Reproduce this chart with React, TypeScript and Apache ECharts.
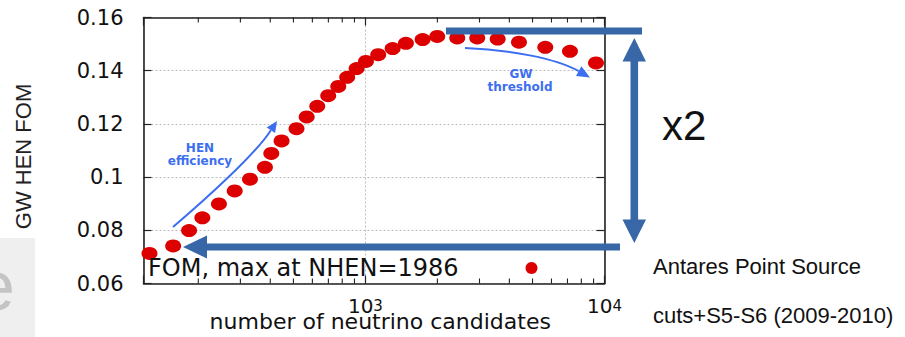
import React, { useEffect, useRef } from 'react';
import * as echarts from 'echarts';

// ---- data ----
const candidates = [125, 157, 183, 208, 244, 284, 329, 380, 404, 446, 515, 568, 629, 699, 770, 839, 919, 1005, 1131, 1300, 1477, 1735, 1997, 2422, 2936, 3574, 4388, 5653, 7171, 9213];
const fom = [0.0713, 0.0741, 0.0799, 0.0847, 0.0899, 0.0948, 0.0992, 0.1037, 0.1089, 0.1136, 0.1182, 0.1226, 0.1266, 0.1306, 0.1341, 0.1375, 0.1408, 0.1435, 0.146, 0.1483, 0.1503, 0.1517, 0.1529, 0.1523, 0.1523, 0.1519, 0.1507, 0.1488, 0.1473, 0.1429];
const minorTicks = [200, 300, 400, 500, 600, 700, 800, 900, 2000, 3000, 4000, 5000, 6000, 7000, 8000, 9000];
const xMin = 118;
const xMax = 10000;
const yMin = 0.06;
const yMax = 0.16;
const yStep = 0.02;
const seriesName = 'FOM, max at NHEN=1986';
const yAxisTitle = 'GW HEN FOM';
const xAxisTitle = 'number of neutrino candidates';

const AX = '#222';
const RED = '#dc0000';
const BLUE = '#3d6ef0';
const STEEL = '#3767a6';
const GNU_FONT = 'DejaVu Sans';
const SLIDE_FONT = 'Liberation Sans, Arial, sans-serif';

function buildOption(): any {
  const points = candidates.map((c, i) => [c, fom[i]]);
  const tickData = minorTicks.map((t) => [t, yMin]);

  const xLabelFmt = (v: number) => {
    const e = Math.log10(v);
    const r = Math.round(e);
    if (Math.abs(e - r) > 1e-6 || r < 3) return '';
    return `{b|10}{s|${r}}`;
  };

  const axisLine = { show: true, onZero: false, lineStyle: { color: AX, width: 1.6 } };
  const split = { show: true, lineStyle: { color: '#bdbdbd', width: 1, type: [2, 2] } };

  const headHEN = [[277, 121], [275.1, 133], [266.7, 127.4]];
  const headGW = [[590, 77.5], [576, 75.9], [581.4, 66.3]];

  return {
    animation: false,
    backgroundColor: '#ffffff',
    grid: { left: 143.5, right: 300.5, top: 17.5, bottom: 53.5, containLabel: false, outerBoundsMode: 'none' },
    legend: {
      data: [seriesName],
      left: 143,
      top: 251,
      align: 'right',
      icon: 'circle',
      itemWidth: 17,
      itemHeight: 12,
      selectedMode: false,
      formatter: (name: string) => `{t|${name}}`,
      textStyle: {
        rich: {
          t: { width: 370, align: 'left', fontFamily: GNU_FONT, fontSize: 24, color: '#111' },
        },
      },
    },
    xAxis: [
      {
        type: 'log',
        logBase: 10,
        min: xMin,
        max: xMax,
        position: 'bottom',
        axisLine,
        axisTick: { show: true, inside: true, length: 8, lineStyle: { color: AX, width: 1.2 } },
        splitLine: split,
        axisLabel: {
          formatter: xLabelFmt,
          margin: 14.5,
          fontFamily: GNU_FONT,
          fontSize: 20,
          color: '#111',
          showMinLabel: true,
          showMaxLabel: true,
          rich: {
            b: { fontFamily: GNU_FONT, fontSize: 20, color: '#111', lineHeight: 16 },
            s: { fontFamily: GNU_FONT, fontSize: 15, color: '#111', lineHeight: 1, verticalAlign: 'top' },
          },
        },
        name: xAxisTitle,
        nameLocation: 'middle',
        nameGap: 32.5,
        nameMoveOverlap: false,
        nameTextStyle: { fontFamily: GNU_FONT, fontSize: 22, lineHeight: 10, color: '#111', padding: [0, 0, 0, 12.5] },
      },
      {
        type: 'log',
        logBase: 10,
        min: xMin,
        max: xMax,
        position: 'top',
        axisLine,
        axisTick: { show: true, inside: true, length: 8, lineStyle: { color: AX, width: 1.2 } },
        axisLabel: { show: false },
        splitLine: { show: false },
      },
    ],
    yAxis: [
      {
        type: 'value',
        min: yMin,
        max: yMax,
        interval: yStep,
        position: 'left',
        axisLine,
        axisTick: { show: true, inside: true, length: 8, lineStyle: { color: AX, width: 1.2 } },
        splitLine: split,
        axisLabel: {
          margin: 20,
          fontFamily: GNU_FONT,
          fontSize: 21,
          color: '#111',
          formatter: (v: number) => String(+v.toFixed(2)),
        },
        name: yAxisTitle,
        nameLocation: 'middle',
        nameRotate: 90,
        nameGap: 109.5,
        nameMoveOverlap: false,
        nameTextStyle: { fontFamily: SLIDE_FONT, fontSize: 22, color: '#222', padding: [0, 12, 0, 0] },
      },
      {
        type: 'value',
        min: yMin,
        max: yMax,
        interval: yStep,
        position: 'right',
        axisLine,
        axisTick: { show: true, inside: true, length: 8, lineStyle: { color: AX, width: 1.2 } },
        axisLabel: { show: false },
        splitLine: { show: false },
      },
    ],
    series: [
      {
        name: 'minor ticks',
        type: 'custom',
        xAxisIndex: 0,
        yAxisIndex: 0,
        silent: true,
        data: tickData,
        renderItem: (params: any, api: any) => {
          const v = api.value(0);
          const pb = api.coord([v, yMin]);
          const pt = api.coord([v, yMax]);
          return {
            type: 'group',
            children: [
              { type: 'line', shape: { x1: pb[0], y1: pb[1], x2: pb[0], y2: pb[1] - 5 }, style: { stroke: AX, lineWidth: 1.1 } },
              { type: 'line', shape: { x1: pt[0], y1: pt[1], x2: pt[0], y2: pt[1] + 5 }, style: { stroke: AX, lineWidth: 1.1 } },
            ],
          };
        },
      },
      {
        name: seriesName,
        type: 'scatter',
        xAxisIndex: 0,
        yAxisIndex: 0,
        symbol: 'circle',
        symbolSize: [16, 13],
        itemStyle: { color: RED, opacity: 1 },
        emphasis: { disabled: true },
        data: points,
        z: 3,
      },
    ],
    graphic: [
      { type: 'rect', shape: { x: 0, y: 238, width: 35, height: 99 }, style: { fill: '#efefef' }, z: 0 },
      {
        type: 'text', x: -24, y: 286, z: 1,
        style: { text: 'e', fontSize: 70, fontFamily: SLIDE_FONT, fill: '#c4c4c4', textAlign: 'left', textVerticalAlign: 'middle' },
      },
      {
        type: 'bezierCurve', z: 50,
        shape: { x1: 173, y1: 227, cpx1: 203, cpy1: 201.5, cpx2: 255, cpy2: 155, x2: 270.9, y2: 130.2 },
        style: { stroke: BLUE, lineWidth: 2, fill: null },
      },
      { type: 'polygon', z: 50, shape: { points: headHEN }, style: { fill: BLUE } },
      {
        type: 'text', x: 200, y: 147.5, z: 50,
        style: { text: 'HEN', fontFamily: GNU_FONT, fontWeight: 'bold', fontSize: 12, fill: BLUE, textAlign: 'center', textVerticalAlign: 'middle' },
      },
      {
        type: 'text', x: 200, y: 160.5, z: 50,
        style: { text: 'efficiency', fontFamily: GNU_FONT, fontWeight: 'bold', fontSize: 12, fill: BLUE, textAlign: 'center', textVerticalAlign: 'middle' },
      },
      {
        type: 'bezierCurve', z: 50,
        shape: { x1: 465, y1: 48, cpx1: 510, cpy1: 50, cpx2: 555, cpy2: 58, x2: 578.7, y2: 71.1 },
        style: { stroke: BLUE, lineWidth: 2, fill: null },
      },
      { type: 'polygon', z: 50, shape: { points: headGW }, style: { fill: BLUE } },
      {
        type: 'text', x: 521, y: 73.5, z: 50,
        style: { text: 'GW', fontFamily: GNU_FONT, fontWeight: 'bold', fontSize: 12, fill: BLUE, textAlign: 'center', textVerticalAlign: 'middle' },
      },
      {
        type: 'text', x: 520, y: 87, z: 50,
        style: { text: 'threshold', fontFamily: GNU_FONT, fontWeight: 'bold', fontSize: 12, fill: BLUE, textAlign: 'center', textVerticalAlign: 'middle' },
      },
      { type: 'rect', z: 100, shape: { x: 446, y: 27.5, width: 196, height: 7 }, style: { fill: STEEL } },
      { type: 'rect', z: 100, shape: { x: 205, y: 243.5, width: 415, height: 7 }, style: { fill: STEEL } },
      { type: 'polygon', z: 100, shape: { points: [[183, 247], [207, 235.5], [207, 258.5]] }, style: { fill: STEEL } },
      { type: 'rect', z: 100, shape: { x: 630.5, y: 60, width: 7.6, height: 161 }, style: { fill: STEEL } },
      { type: 'polygon', z: 100, shape: { points: [[634.3, 38], [622.5, 61.5], [646, 61.5]] }, style: { fill: STEEL } },
      { type: 'polygon', z: 100, shape: { points: [[634.3, 243], [622.5, 219.5], [646, 219.5]] }, style: { fill: STEEL } },
      {
        type: 'text', x: 662, y: 125, z: 100,
        style: { text: 'x2', fontFamily: SLIDE_FONT, fontSize: 42, fill: '#111', textAlign: 'left', textVerticalAlign: 'middle' },
      },
      {
        type: 'text', x: 653, y: 266, z: 100,
        style: { text: 'Antares Point Source', fontFamily: SLIDE_FONT, fontSize: 22, fill: '#111', textAlign: 'left', textVerticalAlign: 'middle' },
      },
      {
        type: 'text', x: 653, y: 315, z: 100,
        style: { text: 'cuts+S5-S6 (2009-2010)', fontFamily: SLIDE_FONT, fontSize: 22, fill: '#111', textAlign: 'left', textVerticalAlign: 'middle' },
      },
    ],
  };
}

export default function App() {
  const ref = useRef<HTMLDivElement>(null);
  useEffect(() => {
    document.body.style.margin = '0';
    const chart = echarts.init(ref.current as HTMLDivElement, null, { renderer: 'svg' });
    chart.setOption(buildOption());
    return () => chart.dispose();
  }, []);
  return <div ref={ref} style={{ width: 905, height: 337, background: '#ffffff' }} />;
}
